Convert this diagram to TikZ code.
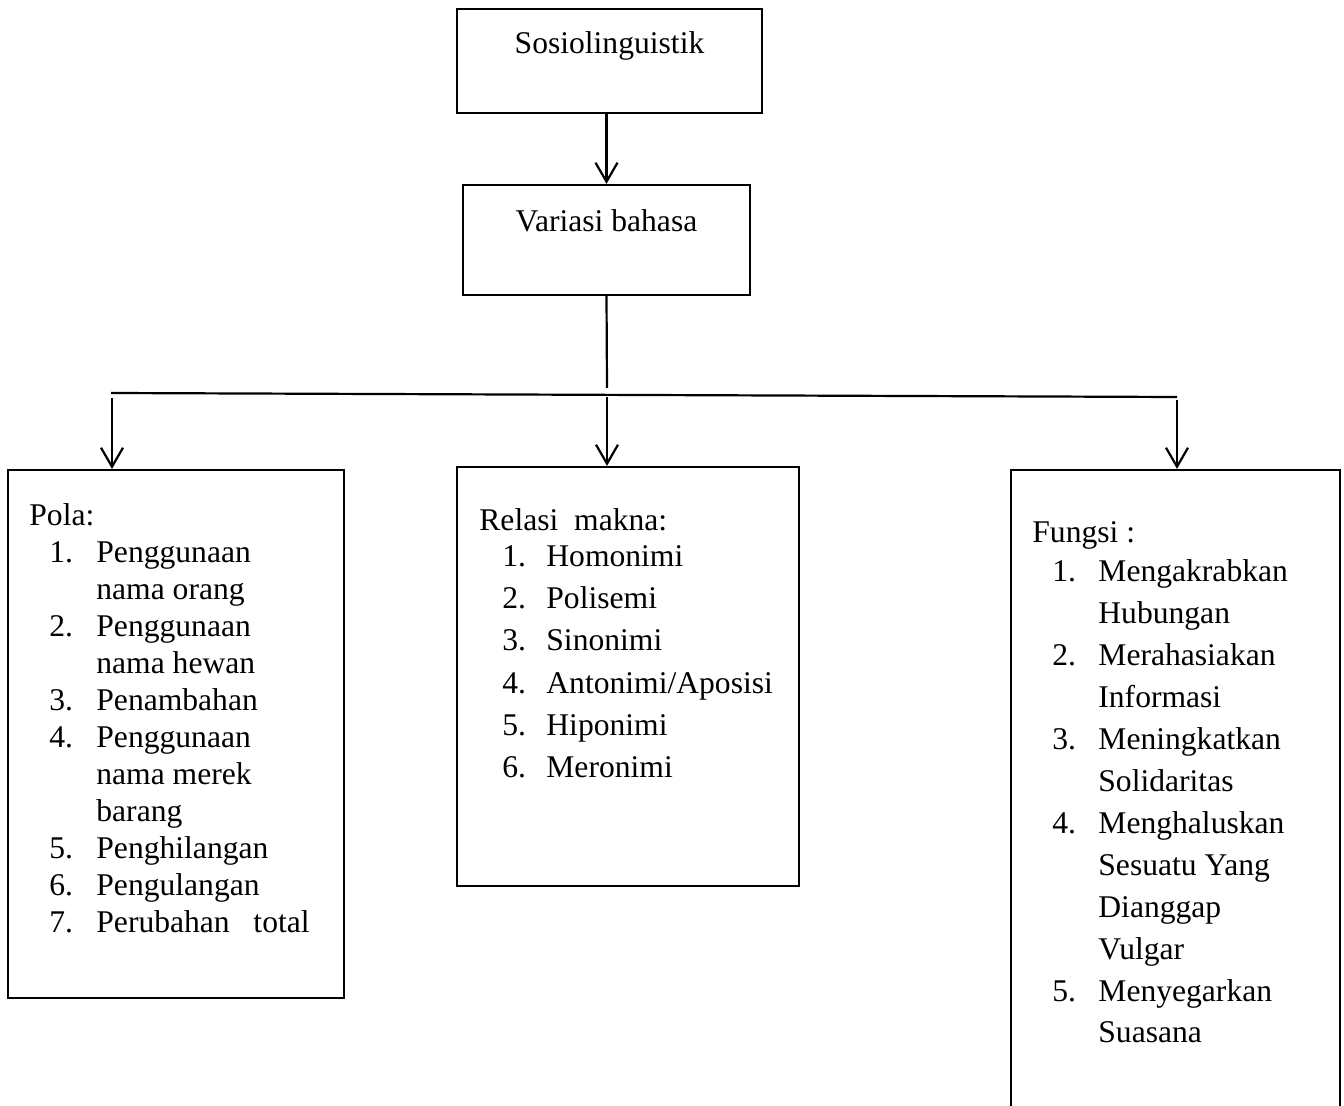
\documentclass[tikz,border=0pt]{standalone}
\usepackage{fontspec}
\setmainfont{Liberation Serif}
\usetikzlibrary{arrows.meta,calc,positioning}

\begin{document}
\begin{tikzpicture}[x=0.5pt,y=-0.5pt,
    box/.style={draw,line width=1.1pt,inner sep=0pt},
    txt/.style={anchor=base west,inner sep=0pt,font=\fontsize{15.8}{19}\selectfont},
    arr/.style={line width=1.1pt,-{Straight Barb[length=9.5pt,width=11pt]}}]
            \useasboundingbox (0,0) rectangle (1344,1106);
            \clip (0,0) rectangle (1344,1106);
            \node[box,minimum width=152.5pt,minimum height=52pt] (sosio) at (609.5,61) {};
            \node[txt,anchor=base] (sosiot) at ($ (sosio.north)+(0,46) $) {Sosiolinguistik};
            \node[box,minimum width=143.5pt,minimum height=55pt] (variasi) at (606.5,240) {};
            \node[txt,anchor=base] (variasit) at ($ (variasi.north)+(0,48) $) {Variasi bahasa};
            \node[box,minimum width=168pt,minimum height=264pt] (pola) at (176,734) {};
            \node[box,minimum width=171pt,minimum height=209.5pt] (relasi) at (628,676.5) {};
            \node[box,minimum width=164.5pt,minimum height=350pt] (fungsi) at (1175.5,820) {};
            \coordinate (jn) at (607,388);
            \coordinate (busL) at (111,393);
            \coordinate (busR) at (1177,397);
            \coordinate (aL) at (112,398);
            \coordinate (aM) at (607,397);
            \coordinate (aR) at (1177,400);
            \draw[arr] (variasi.north |- sosio.south) -- (variasi.north);
            \draw[line width=1.1pt] (variasi.south) -- (jn);
            \draw[line width=1.1pt] (busL) -- (busR);
            \draw[arr] (aL) -- (aL |- pola.north);
            \draw[arr] (aM) -- (aM |- relasi.north);
            \draw[arr] (aR) -- (aR |- fungsi.north);
            \node[txt] (polah) at (29,526) {Pola:};
            \foreach \n/\t [count=\i from 0] in {1./Penggunaan,/nama orang,2./Penggunaan,/nama hewan,3./Penambahan,4./Penggunaan,/nama merek,/barang,5./Penghilangan,6./Pengulangan,7./Perubahan\hspace{0.75em}total}{
            \node[txt] (polan\i) at (49,563+36.9*\i) {\n};
            \node[txt] (polat\i) at (96,563+36.9*\i) {\t};
            }
            \node[txt] (relasih) at (479,531) {Relasi\ \ makna:};
            \foreach \t [count=\i from 0] in {Homonimi,Polisemi,Sinonimi,{Antonimi/Aposisi},Hiponimi,Meronimi}{
            \node[txt] (relasin\i) at (502,567+42*\i) {\pgfmathparse{int(\i+1)}\pgfmathresult.};
            \node[txt] (relasit\i) at (546,567+42*\i) {\t};
            }
            \node[txt] (fungsih) at (1032,543) {Fungsi :};
            \foreach \n/\t [count=\i from 0] in {1./Mengakrabkan,/Hubungan,2./Merahasiakan,/Informasi,3./Meningkatkan,/Solidaritas,4./Menghaluskan,/Sesuatu Yang,/Dianggap,/Vulgar,5./Menyegarkan,/Suasana}{
            \node[txt] (fungsin\i) at (1052,582+41.9*\i) {\n};
            \node[txt] (fungsit\i) at (1098,582+41.9*\i) {\t};
            }
        \end{tikzpicture}
\end{document}
